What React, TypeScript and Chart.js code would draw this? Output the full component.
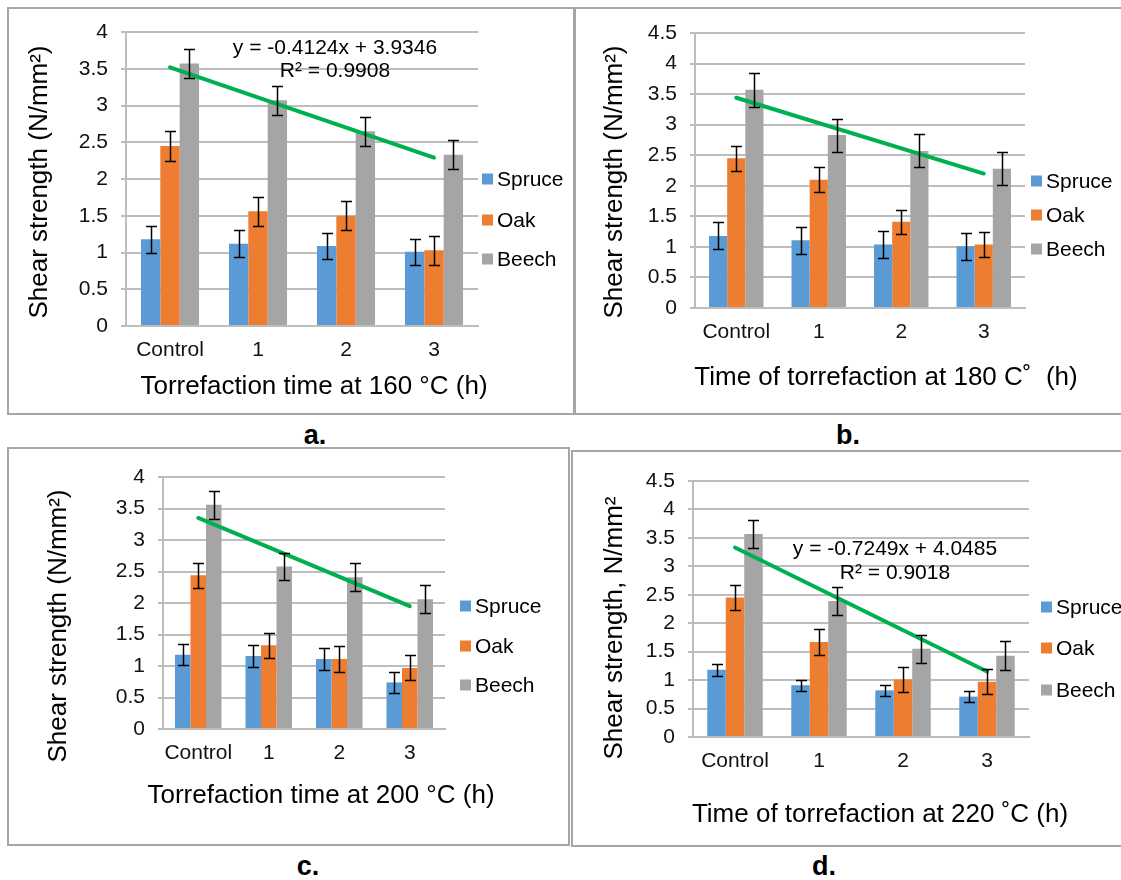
import React, { useEffect, useRef } from "react";
import { Chart, registerables } from "chart.js";
Chart.register(...registerables);

// ---------- data ----------
const categories = ["Control", "1", "2", "3"];
const seriesNames = ["Spruce", "Oak", "Beech"];
const seriesColors = ["#5b9bd5", "#ed7d31", "#a5a5a5"];

// a. 160 °C
const spruceA = [1.18, 1.12, 1.09, 1.01];
const oakA = [2.45, 1.56, 1.5, 1.03];
const beechA = [3.57, 3.07, 2.65, 2.33];
const spruceErrA = [0.18, 0.18, 0.18, 0.18];
const oakErrA = [0.2, 0.2, 0.2, 0.2];
const beechErrA = [0.2, 0.2, 0.2, 0.2];
const trendA = [3.52, null, null, 2.29];

// b. 180 °C
const spruceB = [1.18, 1.11, 1.04, 1.01];
const oakB = [2.45, 2.1, 1.41, 1.04];
const beechB = [3.57, 2.83, 2.57, 2.28];
const spruceErrB = [0.22, 0.22, 0.22, 0.22];
const oakErrB = [0.2, 0.2, 0.2, 0.2];
const beechErrB = [0.28, 0.27, 0.27, 0.27];
const trendB = [3.44, null, null, 2.2];

// c. 200 °C
const spruceC = [1.18, 1.16, 1.11, 0.74];
const oakC = [2.44, 1.33, 1.11, 0.97];
const beechC = [3.56, 2.58, 2.41, 2.06];
const spruceErrC = [0.17, 0.17, 0.17, 0.17];
const oakErrC = [0.2, 0.2, 0.2, 0.2];
const beechErrC = [0.22, 0.22, 0.22, 0.22];
const trendC = [3.35, null, null, 1.95];

// d. 220 °C
const spruceD = [1.18, 0.91, 0.82, 0.71];
const oakD = [2.45, 1.67, 1.01, 0.97];
const beechD = [3.57, 2.39, 1.55, 1.43];
const spruceErrD = [0.1, 0.1, 0.1, 0.1];
const oakErrD = [0.22, 0.22, 0.22, 0.22];
const beechErrD = [0.25, 0.25, 0.25, 0.25];
const trendD = [3.33, null, null, 1.15];

const xTitles = [
  "Torrefaction time at 160 °C (h)",
  "Time of torrefaction at 180 C˚  (h)",
  "Torrefaction time at 200 °C (h)",
  "Time of torrefaction at 220 ˚C (h)",
];
const yTitles = [
  "Shear strength (N/mm²)",
  "Shear strength (N/mm²)",
  "Shear strength (N/mm²)",
  "Shear strength, N/mm²",
];
const equationsA = ["y = -0.4124x + 3.9346", "R² = 0.9908"];
const equationsD = ["y = -0.7249x + 4.0485", "R² = 0.9018"];
const panelLabels = ["a.", "b.", "c.", "d."];
const yMaxes = [4, 4.5, 4, 4.5];

// ---------- layout (page coordinates) ----------
const FONT = "'Liberation Sans', Arial, sans-serif";
const W = 1121;
const H = 880;
const X_H = 40;

const layouts = [
  {
    plot: { left: 126, right: 478, top: 32, bottom: 326 },
    xTitle: { x: 314, y: 387 },
    yTitle: { x: 40, y: 182 },
    legend: { x: 482, rows: [179, 220, 259] },
    eq: { x: 335, rows: [48, 71] },
    frame: { left: 7, top: 7, width: 568, height: 408 },
    label: { x: 315, y: 435 },
  },
  {
    plot: { left: 695, right: 1025, top: 33, bottom: 308 },
    xTitle: { x: 886, y: 378 },
    yTitle: { x: 615, y: 182 },
    legend: { x: 1031, rows: [181, 215, 249] },
    eq: null,
    frame: { left: 574, top: 7, width: 570, height: 408 },
    label: { x: 848, y: 435 },
  },
  {
    plot: { left: 163, right: 445, top: 477, bottom: 729 },
    xTitle: { x: 321, y: 796 },
    yTitle: { x: 59, y: 626 },
    legend: { x: 460, rows: [606, 646, 685] },
    eq: null,
    frame: { left: 7, top: 447, width: 563, height: 399 },
    label: { x: 308, y: 866 },
  },
  {
    plot: { left: 693, right: 1029, top: 481, bottom: 737 },
    xTitle: { x: 880, y: 815 },
    yTitle: { x: 615, y: 628 },
    legend: { x: 1041, rows: [607, 648, 690] },
    eq: { x: 895, rows: [549, 573] },
    frame: { left: 571, top: 450, width: 570, height: 397 },
    label: { x: 824, y: 866 },
  },
];

const panelData = [
  { series: [spruceA, oakA, beechA], errs: [spruceErrA, oakErrA, beechErrA], trend: trendA, eq: equationsA },
  { series: [spruceB, oakB, beechB], errs: [spruceErrB, oakErrB, beechErrB], trend: trendB, eq: null },
  { series: [spruceC, oakC, beechC], errs: [spruceErrC, oakErrC, beechErrC], trend: trendC, eq: null },
  { series: [spruceD, oakD, beechD], errs: [spruceErrD, oakErrD, beechErrD], trend: trendD, eq: equationsD },
];

const errorBarPlugin = {
  id: "errorBars",
  afterDatasetsDraw(chart: any) {
    const ctx = chart.ctx;
    const yScale = chart.scales.y;
    ctx.save();
    ctx.strokeStyle = "#000";
    ctx.lineWidth = 1.5;
    chart.data.datasets.forEach((ds: any, i: number) => {
      if (!ds.errors) return;
      const meta = chart.getDatasetMeta(i);
      meta.data.forEach((el: any, j: number) => {
        const v = ds.data[j];
        const e = ds.errors[j];
        const x = Math.round(el.x) + 0.5;
        const yt = Math.round(yScale.getPixelForValue(v + e)) + 0.5;
        const yb = Math.round(yScale.getPixelForValue(v - e)) + 0.5;
        const cap = 5.5;
        ctx.beginPath();
        ctx.moveTo(x, yt);
        ctx.lineTo(x, yb);
        ctx.moveTo(x - cap, yt);
        ctx.lineTo(x + cap, yt);
        ctx.moveTo(x - cap, yb);
        ctx.lineTo(x + cap, yb);
        ctx.stroke();
      });
    });
    ctx.restore();
  },
};

const textPlugin = {
  id: "panelText",
  afterDraw(chart: any) {
    const o = chart.options.plugins.panelText;
    const ctx = chart.ctx;
    ctx.save();
    ctx.fillStyle = "#000";
    // y title
    ctx.save();
    ctx.translate(o.yTitle.x, o.yTitle.y);
    ctx.rotate(-Math.PI / 2);
    ctx.font = `26px ${FONT}`;
    ctx.textAlign = "center";
    ctx.textBaseline = "middle";
    ctx.fillText(o.yTitleText, 0, 0);
    ctx.restore();
    // x title
    ctx.font = `26px ${FONT}`;
    ctx.textAlign = "center";
    ctx.textBaseline = "middle";
    ctx.fillText(o.xTitleText, o.xTitle.x, o.xTitle.y);
    // legend
    ctx.font = `21px ${FONT}`;
    ctx.textAlign = "left";
    ctx.textBaseline = "middle";
    const bars = chart.data.datasets.filter((d: any) => d.type !== "line");
    bars.forEach((ds: any, i: number) => {
      const y = o.legend.rows[i];
      ctx.fillStyle = ds.backgroundColor;
      ctx.fillRect(o.legend.x, y - 5.5, 11, 11);
      ctx.fillStyle = "#000";
      ctx.fillText(ds.label, o.legend.x + 15, y + 1);
    });
    // equation
    if (o.eq && o.eqText) {
      ctx.textAlign = "center";
      ctx.font = `21px ${FONT}`;
      o.eqText.forEach((t: string, i: number) => ctx.fillText(t, o.eq.x, o.eq.rows[i]));
    }
    ctx.restore();
  },
};

function Panel({ idx }: { idx: number }) {
  const ref = useRef<HTMLCanvasElement>(null);
  useEffect(() => {
    const L = layouts[idx];
    const D = panelData[idx];
    const gridColor = "#bdbdbd";
    const datasets: any[] = [
      {
        type: "line",
        label: "Trend",
        data: D.trend,
        borderColor: "#00b050",
        borderWidth: 4,
        pointRadius: 0,
        spanGaps: true,
        borderCapStyle: "round",
        order: 0,
      },
      ...seriesNames.map((name, i) => ({
        type: "bar",
        label: name,
        data: D.series[i],
        errors: D.errs[i],
        backgroundColor: seriesColors[i],
        categoryPercentage: 0.66,
        barPercentage: 1,
        order: 1,
      })),
    ];
    const chart = new Chart(ref.current as HTMLCanvasElement, {
      type: "bar",
      data: { labels: categories, datasets },
      options: {
        responsive: false,
        animation: false,
        devicePixelRatio: 1,
        events: [],
        layout: {
          padding: {
            left: 0,
            top: L.plot.top,
            right: W - L.plot.right,
            bottom: H - L.plot.bottom - X_H,
          },
        },
        plugins: {
          legend: { display: false },
          tooltip: { enabled: false },
          panelText: {
            yTitle: L.yTitle,
            xTitle: L.xTitle,
            legend: L.legend,
            eq: L.eq,
            eqText: D.eq,
            xTitleText: xTitles[idx],
            yTitleText: yTitles[idx],
          },
        } as any,
        scales: {
          x: {
            grid: { display: false, drawTicks: false },
            border: { display: true, color: gridColor, width: 2 },
            ticks: {
              font: { family: FONT, size: 21 },
              color: "#111",
              padding: 12,
              maxRotation: 0,
              autoSkip: false,
            },
            afterFit: (s: any) => {
              s.height = X_H;
            },
          },
          y: {
            min: 0,
            max: yMaxes[idx],
            ticks: {
              stepSize: 0.5,
              font: { family: FONT, size: 21 },
              color: "#111",
              padding: 13,
              callback: (v: any) => String(Math.round(Number(v) * 10) / 10),
            },
            grid: { color: gridColor, lineWidth: 2, tickLength: 5, drawTicks: true },
            border: { display: true, color: gridColor, width: 2 },
            afterFit: (s: any) => {
              s.width = L.plot.left;
            },
          },
        },
      } as any,
      plugins: [errorBarPlugin, textPlugin],
    });
    return () => chart.destroy();
  }, [idx]);
  return (
    <canvas
      ref={ref}
      width={W}
      height={H}
      style={{ position: "absolute", left: 0, top: 0 }}
    />
  );
}

export default function App() {
  return (
    <div
      style={{
        position: "absolute",
        left: 0,
        top: 0,
        width: W,
        height: H,
        overflow: "hidden",
        background: "#fff",
        fontFamily: FONT,
      }}
    >
      {layouts.map((L, i) => (
        <div
          key={"f" + i}
          style={{
            position: "absolute",
            left: L.frame.left,
            top: L.frame.top,
            width: L.frame.width,
            height: L.frame.height,
            boxSizing: "border-box",
            border: "2px solid #a6a6a6",
          }}
        />
      ))}
      {layouts.map((L, i) => (
        <div
          key={"l" + i}
          style={{
            position: "absolute",
            left: L.label.x - 30,
            top: L.label.y - 16,
            width: 60,
            height: 32,
            lineHeight: "32px",
            textAlign: "center",
            fontWeight: "bold",
            fontSize: 27,
            color: "#000",
          }}
        >
          {panelLabels[i]}
        </div>
      ))}
      {[0, 1, 2, 3].map((i) => (
        <Panel key={i} idx={i} />
      ))}
    </div>
  );
}
